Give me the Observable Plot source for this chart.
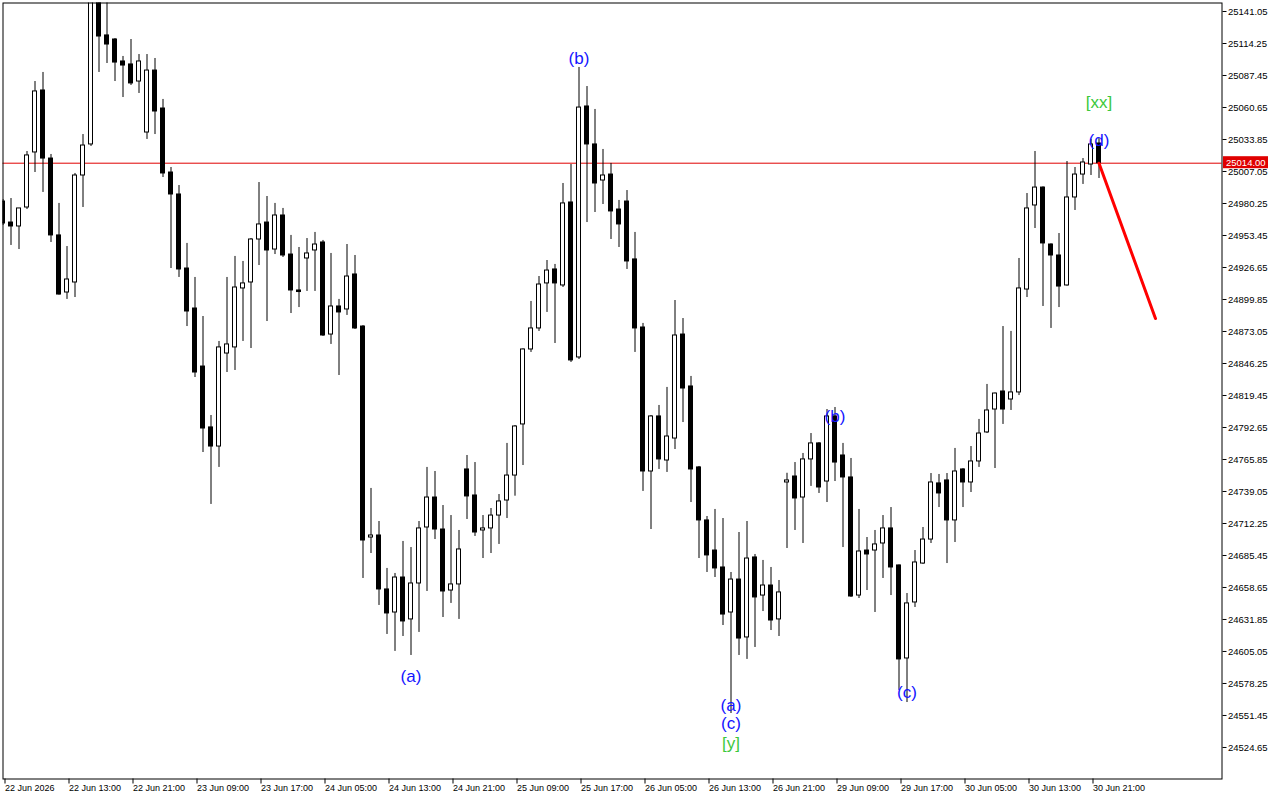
<!DOCTYPE html>
<html><head><meta charset="utf-8">
<script src="https://cdn.jsdelivr.net/npm/d3@7"></script>
<script src="https://cdn.jsdelivr.net/npm/@observablehq/plot@0.6"></script>
<style>html,body{margin:0;padding:0;background:#fff} svg{display:block}</style>
</head><body><div id="chart"></div>
<script>
// Hourly OHLC bars (bar index 0..137)
const opens = [
24981.9, 24964.3, 24961.0, 24976.9, 25023.0, 25074.9, 25017.9, 24953.5, 24905.7, 24914.1,
25003.7, 25029.7, 25152.0, 25121.0, 25117.6, 25099.2, 25096.7, 25082.4, 25039.7, 25091.6,
25059.8, 25006.2, 24987.8, 24925.8, 24892.3, 24843.7, 24792.7, 24776.7, 24854.6, 24859.7,
24909.1, 24914.1, 24950.1, 24964.3, 24941.7, 24970.2, 24937.5, 24907.4, 24934.2, 24940.9,
24947.6, 24870.5, 24894.0, 24891.5, 24920.8, 24877.2, 24700.5, 24702.2, 24657.0, 24637.7,
24667.0, 24631.9, 24662.0, 24708.9, 24734.0, 24707.2, 24656.1, 24661.2, 24757.5, 24735.7,
24706.4, 24708.1, 24718.9, 24731.5, 24752.4, 24795.2, 24858.0, 24875.6, 24913.3, 24925.0,
24911.6, 24981.1, 24851.3, 25061.5, 25029.7, 24999.5, 25004.5, 24975.2, 24981.9, 24933.4,
24876.4, 24755.8, 24801.9, 24765.0, 24783.4, 24870.5, 24827.0, 24759.2, 24714.8, 24689.6,
24675.4, 24637.7, 24665.3, 24616.8, 24683.8, 24651.9, 24660.3, 24631.9, 24746.6, 24751.6,
24734.0, 24765.9, 24779.3, 24747.4, 24801.9, 24769.2, 24750.8, 24651.9, 24689.6, 24689.6,
24695.5, 24708.1, 24677.1, 24599.2, 24646.1, 24678.7, 24698.8, 24745.8, 24748.3, 24714.8,
24757.5, 24746.6, 24764.2, 24788.5, 24807.7, 24822.8, 24816.1, 24822.0, 24908.2, 24978.6,
24993.6, 24945.9, 24936.7, 24911.6, 24985.3, 25004.5, 25012.9, 25030.5];
const highs = [
24983.6, 24984.4, 24976.1, 25023.8, 25082.4, 25090.0, 25021.3, 24980.3, 24944.2, 25005.4,
25038.0, 25160.0, 25158.0, 25150.0, 25118.4, 25103.4, 25117.6, 25105.0, 25105.0, 25101.7,
25067.4, 25010.4, 24995.3, 24946.8, 24918.3, 24885.6, 24802.7, 24864.7, 24918.3, 24935.9,
24931.7, 24950.9, 24997.8, 24986.1, 24980.3, 24976.1, 24953.5, 24943.4, 24950.9, 24956.0,
24949.3, 24938.4, 24899.9, 24945.9, 24936.7, 24878.0, 24741.6, 24713.9, 24674.6, 24670.4,
24697.2, 24692.1, 24713.9, 24759.2, 24755.8, 24727.3, 24718.9, 24706.4, 24769.2, 24763.3,
24718.9, 24724.8, 24736.5, 24779.3, 24794.3, 24858.5, 24898.2, 24919.1, 24932.5, 24929.2,
24997.0, 25012.9, 25094.2, 25078.2, 25059.0, 25025.5, 25013.8, 24982.8, 24991.1, 24956.0,
24879.8, 24802.7, 24811.1, 24826.2, 24899.0, 24883.9, 24835.4, 24760.0, 24718.1, 24724.0,
24716.4, 24671.2, 24704.7, 24713.9, 24686.3, 24681.3, 24675.4, 24664.5, 24754.3, 24763.3,
24770.9, 24787.6, 24780.0, 24807.7, 24809.4, 24779.3, 24766.7, 24724.0, 24700.5, 24706.4,
24718.9, 24725.6, 24677.5, 24653.6, 24689.6, 24708.9, 24754.1, 24753.3, 24754.1, 24775.1,
24758.2, 24776.7, 24799.4, 24828.7, 24821.5, 24877.2, 24873.1, 24934.2, 24988.6, 25023.8,
24994.2, 24946.5, 24955.1, 25015.4, 25010.4, 25017.9, 25033.9, 25034.9];
const lows = [
24961.8, 24945.1, 24941.7, 24975.2, 25006.2, 24989.5, 24947.6, 24903.5, 24899.9, 24901.5,
24976.9, 25028.0, 25090.0, 25097.5, 25082.4, 25069.0, 25079.1, 25072.4, 25033.9, 25038.0,
25002.0, 24925.8, 24918.3, 24877.2, 24834.5, 24771.7, 24728.2, 24759.2, 24838.7, 24840.4,
24864.7, 24858.8, 24928.3, 24881.4, 24937.5, 24935.0, 24888.1, 24893.1, 24906.6, 24906.6,
24868.9, 24862.2, 24836.2, 24886.5, 24874.7, 24666.2, 24687.1, 24643.6, 24619.3, 24605.1,
24617.6, 24601.7, 24621.0, 24655.3, 24698.8, 24633.5, 24645.3, 24631.9, 24715.6, 24701.4,
24682.9, 24687.1, 24694.7, 24716.4, 24735.1, 24760.8, 24855.5, 24873.1, 24889.0, 24863.0,
24909.9, 24847.1, 24849.6, 24964.3, 24972.7, 24979.4, 24950.1, 24943.4, 24925.0, 24855.5,
24739.1, 24707.2, 24757.5, 24755.0, 24774.2, 24796.8, 24729.8, 24682.9, 24671.2, 24667.0,
24626.8, 24553.1, 24601.7, 24598.4, 24608.4, 24638.5, 24622.6, 24617.6, 24691.3, 24706.4,
24695.5, 24743.3, 24737.4, 24729.8, 24747.4, 24692.1, 24650.3, 24649.4, 24656.1, 24637.7,
24666.2, 24651.9, 24572.4, 24562.3, 24641.9, 24678.0, 24695.5, 24725.6, 24678.7, 24696.3,
24725.6, 24738.2, 24759.2, 24787.6, 24758.3, 24795.2, 24806.9, 24819.4, 24901.5, 24959.3,
24894.0, 24875.6, 24893.1, 24911.0, 24974.4, 24996.2, 25003.7, 25001.2];
const closes = [
24963.5, 24961.0, 24976.1, 25020.5, 25074.1, 25017.9, 24953.5, 24904.0, 24916.6, 25003.7,
25028.8, 25152.5, 25120.1, 25113.4, 25098.3, 25095.8, 25080.8, 25099.2, 25091.6, 25057.3,
25005.4, 24987.8, 24925.0, 24889.8, 24838.7, 24791.8, 24776.7, 24859.7, 24862.2, 24909.9,
24913.3, 24950.1, 24962.7, 24940.9, 24970.2, 24936.7, 24907.4, 24906.1, 24938.4, 24945.9,
24869.7, 24894.0, 24889.0, 24919.1, 24875.6, 24698.0, 24702.2, 24657.0, 24636.9, 24667.0,
24630.2, 24662.0, 24708.1, 24734.0, 24707.2, 24655.3, 24661.2, 24690.5, 24734.9, 24704.7,
24708.1, 24718.9, 24730.7, 24752.4, 24793.5, 24858.0, 24875.6, 24912.4, 24924.1, 24913.3,
24980.3, 24848.8, 25060.6, 25029.7, 24997.0, 25003.7, 24973.6, 24962.7, 24931.7, 24875.6,
24755.8, 24801.9, 24765.9, 24785.1, 24869.7, 24825.3, 24757.5, 24714.8, 24685.5, 24674.6,
24636.0, 24665.3, 24615.9, 24682.9, 24650.3, 24660.3, 24631.0, 24654.5, 24748.3, 24733.2,
24765.9, 24779.3, 24742.4, 24801.9, 24763.3, 24750.8, 24651.1, 24688.8, 24686.3, 24694.7,
24708.1, 24675.4, 24598.4, 24645.3, 24679.6, 24698.8, 24746.6, 24737.4, 24714.8, 24755.8,
24746.6, 24764.2, 24787.6, 24806.9, 24821.1, 24807.7, 24822.0, 24909.1, 24976.1, 24993.6,
24946.8, 24936.7, 24910.7, 24985.3, 25004.5, 25014.6, 25029.7, 25014.0];

// Axis ticks
const priceTicks = [24524.65, 24551.45, 24578.25, 24605.05, 24631.85, 24658.65, 24685.45, 24712.25,
  24739.05, 24765.85, 24792.65, 24819.45, 24846.25, 24873.05, 24899.85, 24926.65, 24953.45,
  24980.25, 25007.05, 25033.85, 25060.65, 25087.45, 25114.25, 25141.05];
const timeTickBars = [0, 8, 16, 24, 32, 40, 48, 56, 64, 72, 80, 88, 96, 104, 112, 120, 128, 136];
const timeLabels = ["22 Jun 2026", "22 Jun 13:00", "22 Jun 21:00", "23 Jun 09:00", "23 Jun 17:00",
  "24 Jun 05:00", "24 Jun 13:00", "24 Jun 21:00", "25 Jun 09:00", "25 Jun 17:00", "26 Jun 05:00",
  "26 Jun 13:00", "26 Jun 21:00", "29 Jun 09:00", "29 Jun 17:00", "30 Jun 05:00", "30 Jun 13:00",
  "30 Jun 21:00"];

const currentPrice = 25014.00;
// forecast arrow (bar, price)
const forecastBars = [137, 144.06];
const forecastPrices = [25014.0, 24883.9];

// Elliott wave labels
const waveText  = ["(b)", "(a)", "(a)", "(c)", "[y]", "(b)", "(c)", "[xx]", "(d)"];
const waveBar   = [72, 51, 91, 91, 91, 104, 113, 137, 137];
const wavePrice = [25101.7, 24584.1, 24559.8, 24544.7, 24528.0, 24801.9, 24570.7, 25064.8, 25033.0];
const waveColor = ["#1414ff", "#1414ff", "#1414ff", "#1414ff", "#3cc83c", "#1414ff", "#1414ff", "#3cc83c", "#1414ff"];

const candles = opens.map((o, i) => ({i, o, h: highs[i], l: lows[i], c: closes[i], up: closes[i] >= o}));
const forecast = forecastBars.map((b, k) => ({bar: b, price: forecastPrices[k]}));
const waves = waveText.map((t, k) => ({t, bar: waveBar[k], price: wavePrice[k], color: waveColor[k]}));

const chart = Plot.plot({
  width: 1280, height: 800,
  marginLeft: 2.5, marginTop: 2.5, marginRight: 58.5, marginBottom: 21.5,
  style: {fontFamily: "'Liberation Sans', Arial, sans-serif", fontSize: "9px", background: "#fff", color: "#000"},
  x: {domain: [0, 152.375], axis: null},
  y: {domain: [24498.25, 25148.17], axis: null},
  marks: [
    Plot.ruleY([currentPrice], {stroke: "#e00000", strokeWidth: 1}),
    Plot.ruleX(candles, {x: "i", y1: "l", y2: "h", stroke: "#000", strokeWidth: 1, clip: true}),
    Plot.rect(candles, {
      x1: d => d.i - 0.25, x2: d => d.i + 0.25,
      y1: "o", y2: d => Math.abs(d.c - d.o) < 1.2 ? d.o + (d.up ? 1.2 : -1.2) : d.c,
      fill: d => d.up ? "#fff" : "#000", stroke: "#000", strokeWidth: 1, clip: true
    }),
    Plot.line(forecast, {x: "bar", y: "price", stroke: "#ff0000", strokeWidth: 3}),
    Plot.text(waves, {x: "bar", y: "price", text: "t", fill: "color", fontSize: 17,
      fontFamily: "'Liberation Sans', Arial, sans-serif"}),
    Plot.frame({stroke: "#000"}),
    Plot.axisY(priceTicks, {anchor: "right", tickSize: 4, tickPadding: 2, label: null,
      tickFormat: d => d.toFixed(2), fontSize: 9.5}),
    Plot.axisX(timeTickBars, {anchor: "bottom", tickSize: 5, tickPadding: 1, label: null,
      tickFormat: d => timeLabels[timeTickBars.indexOf(d)], textAnchor: "start", dx: 2, fontSize: 9})
  ]
});

// current price tag in the right gutter
const sy = chart.scale("y").apply(currentPrice);
const g = d3.select(chart).append("g");
g.append("rect").attr("x", 1223).attr("y", sy - 6.5).attr("width", 45).attr("height", 12).attr("fill", "#e00000");
g.append("text").attr("x", 1226).attr("y", sy).attr("dy", "0.35em").attr("fill", "#fff")
  .attr("text-anchor", "start")
  .attr("font-size", 9.5).attr("font-family", "'Liberation Sans', Arial, sans-serif").text(currentPrice.toFixed(2));

document.getElementById("chart").append(chart);
</script>
</body></html>
